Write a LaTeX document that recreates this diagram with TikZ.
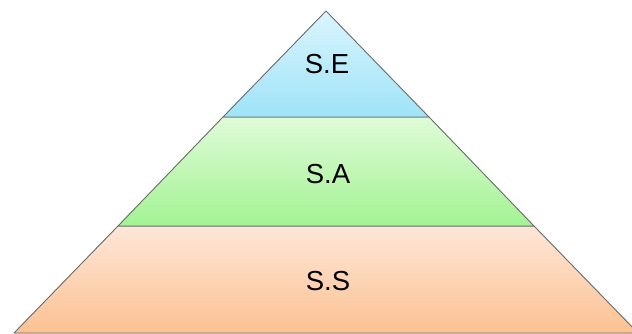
\documentclass[tikz,border=0pt]{standalone}
\usepackage{fontspec}
\setmainfont{Liberation Sans}
\definecolor{seTop}{HTML}{DAF5FD}
\definecolor{seBot}{HTML}{9FE3F8}
\definecolor{saTop}{HTML}{DFFBD8}
\definecolor{saBot}{HTML}{A3F393}
\definecolor{ssTop}{HTML}{FDE6D8}
\definecolor{ssBot}{HTML}{FCC292}
\definecolor{edge}{HTML}{6E6E6E}
\begin{document}
\begin{tikzpicture}[x=1pt,y=-1pt,
  layer/.style={draw=edge,line width=0.9pt,line join=round},
  lbl/.style={font=\fontsize{27.5}{32}\selectfont,text=black,anchor=base,inner sep=0pt}]
\useasboundingbox (0,0) rectangle (632,334);
\clip (0,0) rectangle (632,334);
% apex of the pyramid and the corners of each band
\coordinate (apex) at (326,11);
\coordinate (l1) at (223,117);  \coordinate (r1) at (429,117);
\coordinate (l2) at (118,226);  \coordinate (r2) at (534,226);
\coordinate (l3) at (14,333);   \coordinate (r3) at (638,333);
% bottom layer
\fill[top color=ssTop,bottom color=ssBot] (l2) -- (r2) -- (r3) -- (l3) -- cycle;
\draw[layer] (l2) -- (l3) -- (r3) -- (r2) -- cycle;
% middle layer
\fill[top color=saTop,bottom color=saBot] (l1) -- (r1) -- (r2) -- (l2) -- cycle;
\draw[layer] (l1) -- (l2) -- (r2) -- (r1) -- cycle;
% top layer
\fill[top color=seTop,bottom color=seBot] (apex) -- (r1) -- (l1) -- cycle;
\draw[layer] (apex) -- (r1) -- (l1) -- cycle;
% labels
\node[lbl] (se) at (327,74) {S.E};
\node[lbl] (sa) at (328,183) {S.A};
\node[lbl] (ss) at (328,290) {S.S};
\end{tikzpicture}
\end{document}
